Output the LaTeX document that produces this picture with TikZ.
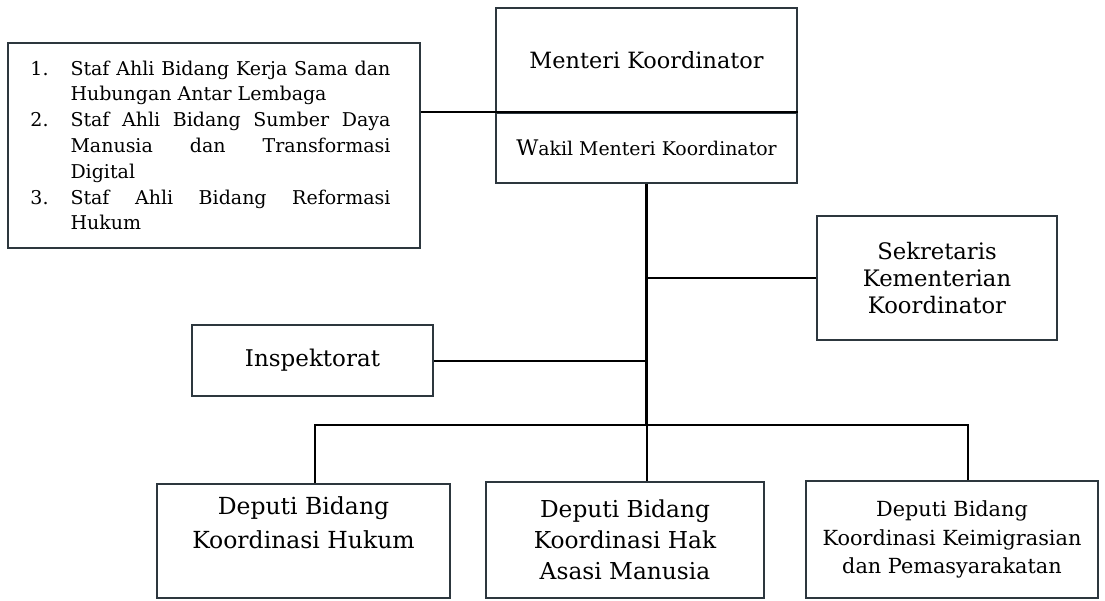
\documentclass[tikz,border=0pt]{standalone}
\usepackage{fontspec}
\setmainfont{DejaVu Serif}
\usepackage{enumitem}
\usetikzlibrary{positioning,calc}

\definecolor{boxline}{RGB}{45,55,62}

\tikzset{
  unit/.style={draw=boxline, line width=2pt, inner sep=0pt, align=center,
               font=\fontsize{23}{28}\selectfont},
  link/.style={line width=2pt, black},
  trunk/.style={line width=2.8pt, black}
}

\begin{document}
\begin{tikzpicture}[x=1pt, y=-1pt]
  % Define canvas
  \useasboundingbox (0,0) rectangle (1105,601);

  % Top unit
  \node[unit, minimum width=301pt, minimum height=104pt,
        font=\fontsize{22.4}{26}\selectfont] (menteri) at (646.5,60) {Menteri Koordinator};
  \node[unit, minimum width=301pt, minimum height=70pt] (wakil) at (646.5,148)
        {{\fontsize{21.5}{24}\selectfont W}\fontsize{18.9}{22}\selectfont akil Menteri Koordinator};

  % Staf ahli
  \node[unit, minimum width=412pt, minimum height=205pt,
        font=\fontsize{19}{25.8}\selectfont] (staf) at (214,145.5) {%
    \begin{minipage}{374pt}
    \hyphenpenalty=10000
    \begin{enumerate}[label=\arabic*., leftmargin=33pt, rightmargin=21pt, labelsep=14pt,
                      labelwidth=26pt, align=left, itemsep=0pt, topsep=0pt, parsep=0pt,
                      partopsep=0pt]
      \item Staf Ahli Bidang Kerja Sama dan\linebreak Hubungan Antar Lembaga
      \item Staf Ahli Bidang Sumber Daya\linebreak Manusia dan Transformasi\linebreak Digital
      \item Staf Ahli Bidang Reformasi\linebreak Hukum
    \end{enumerate}
    \end{minipage}};

  % Side units
  \node[unit, minimum width=240pt, minimum height=124pt,
        font=\fontsize{22.7}{27}\selectfont] (sekretaris) at (937,278)
        {Sekretaris\\Kementerian\\Koordinator};
  \node[unit, minimum width=241pt, minimum height=71pt] (inspektorat) at (312.5,360.5)
        {Inspektorat};

  % Deputi
  \node[unit, minimum width=293pt, minimum height=114pt,
        font=\fontsize{23.5}{34}\selectfont] (deputiA) at (303.5,541)
        {\raisebox{16pt}[\height][\depth]{\begin{tabular}{@{}c@{}}
           Deputi Bidang\\Koordinasi Hukum\end{tabular}}};
  \node[unit, minimum width=278pt, minimum height=116pt,
        font=\fontsize{23.3}{31}\selectfont] (deputiB) at (625,540)
        {Deputi Bidang\\Koordinasi Hak\\Asasi Manusia};
  \node[unit, minimum width=292pt, minimum height=117pt,
        font=\fontsize{20.8}{28.5}\selectfont] (deputiC) at (952,539.5)
        {Deputi Bidang\\Koordinasi Keimigrasian\\dan Pemasyarakatan};

  % Connectors
  \coordinate (bus) at (646.5,425);
  \draw[trunk] (staf.east |- wakil.north) -- (wakil.north east);
  \draw[trunk] (wakil.south) -- (bus);
  \draw[link] (bus) -- (bus |- deputiB.north);
  \draw[link] ([xshift=11.5pt]deputiA.north) |- (bus) -| ([xshift=16pt]deputiC.north);
  \draw[link] (sekretaris.west) -- (sekretaris.west -| bus);
  \draw[link] (inspektorat.east) -- (inspektorat.east -| bus);
\end{tikzpicture}
\end{document}
